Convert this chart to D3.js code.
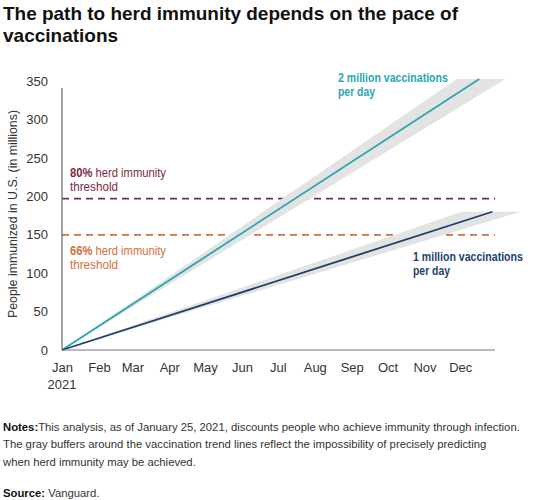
<!DOCTYPE html>
<html>
<head>
<meta charset="utf-8">
<script src="https://cdn.jsdelivr.net/npm/d3@7"></script>
<style>
  body { margin: 0; background: #fff; }
  text { font-family: "Liberation Sans", Arial, sans-serif; }
</style>
</head>
<body>
<script>
// data
let months = ['Jan', 'Feb', 'Mar', 'Apr', 'May', 'Jun', 'Jul', 'Aug', 'Sep', 'Oct', 'Nov', 'Dec'];
let yTicks = [0, 50, 100, 150, 200, 250, 300, 350];

// people immunized (millions): start and end of each trend line
let twoMillion = [
  { date: '2021-01-01', value: 0 },
  { date: '2021-12-17', value: 353 }
];
let oneMillion = [
  { date: '2021-01-01', value: 0 },
  { date: '2021-12-28', value: 180 }
];

// gray buffers: origin, fast edge, slow edge
let twoMillionBand = [
  { date: '2021-01-01', value: 0 },
  { date: '2021-11-28', value: 353 },
  { date: '2022-01-08', value: 353 }
];
let oneMillionBand = [
  { date: '2021-01-01', value: 0 },
  { date: '2021-12-02', value: 180 },
  { date: '2022-01-21', value: 180 }
];

let thresholds = [
  { pct: '80%', value: 197, color: '#7e2a40' },
  { pct: '66%', value: 150, color: '#d2703a' }
];

let parse = d3.timeParse('%Y-%m-%d');

let svg = d3.select('body')
  .append('svg')
  .attr('width', 533)
  .attr('height', 500);

let x = d3.scaleTime()
  .domain([parse('2021-01-01'), parse('2021-12-31')])
  .range([62, 496]);

let y = d3.scaleLinear()
  .domain([0, 350])
  .range([350, 81.2]);

// squeeze a label horizontally to the condensed width seen in the picture
function narrowText(lx, ly, width, color, build) {
  let g = svg.append('g');
  let t = g.append('text')
    .attr('font-size', 13)
    .attr('fill', color);
  build(t);
  let len = t.node().getComputedTextLength();
  g.attr('transform', `translate(${lx},${ly}) scale(${width / len},1)`);
  return g;
}

// title
svg.append('text')
  .attr('x', 3).attr('y', 20)
  .attr('font-size', 19).attr('font-weight', 'bold').attr('fill', '#111')
  .attr('textLength', 455).attr('lengthAdjust', 'spacingAndGlyphs')
  .text('The path to herd immunity depends on the pace of');
svg.append('text')
  .attr('x', 3).attr('y', 42)
  .attr('font-size', 19).attr('font-weight', 'bold').attr('fill', '#111')
  .text('vaccinations');

// threshold lines
svg.selectAll('.threshold').data(thresholds)
  .enter().append('line')
  .attr('class', 'threshold')
  .attr('x1', x.range()[0])
  .attr('x2', x.range()[1] - 1)
  .attr('y1', d => y(d.value))
  .attr('y2', d => y(d.value))
  .attr('stroke', d => d.color)
  .attr('stroke-width', 1.8)
  .attr('stroke-dasharray', '7,5');

// buffers
let poly = d3.line()
  .x(d => x(parse(d.date)))
  .y(d => y(d.value));

[twoMillionBand, oneMillionBand].forEach(band => {
  svg.append('path')
    .attr('d', poly(band) + 'Z')
    .attr('fill', '#e3e3e3');
});

// trend lines
svg.append('path')
  .attr('d', poly(twoMillion))
  .attr('fill', 'none')
  .attr('stroke', '#2aa6b1')
  .attr('stroke-width', 1.8);
svg.append('path')
  .attr('d', poly(oneMillion))
  .attr('fill', 'none')
  .attr('stroke', '#1c3f6e')
  .attr('stroke-width', 1.8);

// axes
svg.append('line')
  .attr('x1', 62).attr('x2', 62)
  .attr('y1', y(341)).attr('y2', y(0))
  .attr('stroke', '#666').attr('stroke-width', 1.2);

let xAxis = svg.append('g')
  .attr('transform', `translate(0,${y(0)})`)
  .call(d3.axisBottom(x)
    .tickValues(d3.timeMonth.range(parse('2021-01-01'), parse('2022-01-01')))
    .tickFormat((d, i) => months[i])
    .tickSize(0)
    .tickPadding(13));
xAxis.select('.domain').attr('stroke', '#777').attr('stroke-width', 1.2).attr('d', 'M62,0H495');
xAxis.selectAll('text')
  .attr('font-size', 13).attr('fill', '#333')
  .attr('font-family', '"Liberation Sans", Arial, sans-serif');
xAxis.append('text')
  .attr('x', x(parse('2021-01-01')))
  .attr('y', 39)
  .attr('text-anchor', 'middle')
  .attr('font-size', 13).attr('fill', '#333')
  .text('2021');

let yAxis = svg.append('g')
  .attr('transform', 'translate(62,0)')
  .call(d3.axisLeft(y).tickValues(yTicks).tickSize(0).tickPadding(14));
yAxis.select('.domain').remove();
yAxis.selectAll('text')
  .attr('font-size', 13).attr('fill', '#333')
  .attr('font-family', '"Liberation Sans", Arial, sans-serif');

svg.append('text')
  .attr('transform', 'translate(17,214) rotate(-90)')
  .attr('text-anchor', 'middle')
  .attr('font-size', 12).attr('fill', '#333')
  .attr('textLength', 208).attr('lengthAdjust', 'spacingAndGlyphs')
  .text('People immunized in U.S. (in millions)');

// threshold labels
let thrLabelY = [172, 250];
thresholds.forEach((t, i) => {
  narrowText(70, thrLabelY[i] + 4.5, 96, t.color, s => {
    s.append('tspan').attr('font-weight', 'bold').text(t.pct);
    s.append('tspan').text(' herd immunity');
  });
  narrowText(70, thrLabelY[i] + 18.5, 48, t.color, s => s.text('threshold'));
});

// series labels
function seriesLabel(lx, ly, color, first) {
  narrowText(lx, ly, 110, color, s => s.attr('font-weight', 'bold').text(first));
  narrowText(lx, ly + 14, 37, color, s => s.attr('font-weight', 'bold').text('per day'));
}
seriesLabel(338, 81.5, '#2aa6b1', '2 million vaccinations');
seriesLabel(413, 260.5, '#1c3f6e', '1 million vaccinations');

// notes
let notes = [
  ['Notes:', 'This analysis, as of January 25, 2021, discounts people who achieve immunity through infection.'],
  ['', 'The gray buffers around the vaccination trend lines reflect the impossibility of precisely predicting'],
  ['', 'when herd immunity may be achieved.']
];
notes.forEach((n, i) => {
  let t = svg.append('text')
    .attr('x', 3).attr('y', 430.5 + i * 17.5)
    .attr('font-size', 11.3).attr('fill', '#333');
  if (n[0]) t.append('tspan').attr('font-weight', 'bold').attr('fill', '#111').text(n[0]);
  t.append('tspan').text(n[1]);
});
let src = svg.append('text')
  .attr('x', 3).attr('y', 497)
  .attr('font-size', 11.3).attr('fill', '#333');
src.append('tspan').attr('font-weight', 'bold').attr('fill', '#111').text('Source: ');
src.append('tspan').text('Vanguard.');
</script>
</body>
</html>
